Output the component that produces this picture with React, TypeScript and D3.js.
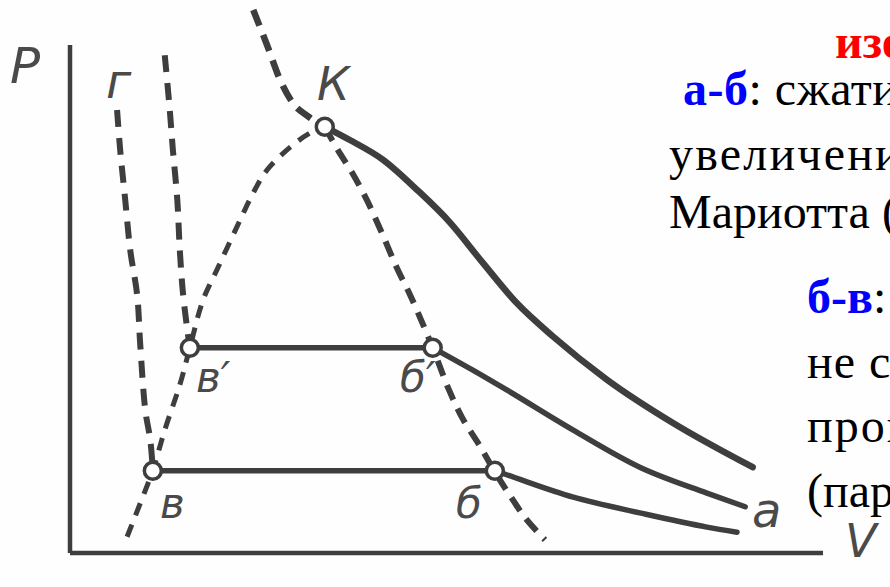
import React from "react";
import * as d3 from "d3";

// P–V diagram of real-gas isotherms (arbitrary units: V 0..12, P 0..10)
type Pt = [number, number];

const V_MAX = 12;
const P_MAX = 10;

// Critical point К and the ends of the two condensation plateaus
const pointK: Pt = [4.06, 8.39];
const plateauHigh: Pt[] = [[1.91, 4.04], [5.78, 4.04]]; // в' — б'
const plateauLow: Pt[] = [[1.32, 1.62], [6.77, 1.62]]; // в — б

// Isotherms (gas part, to the right of the saturation curve)
const isothermCritV = [4.06, 4.46, 4.99, 5.53, 6.06, 6.58, 7.12, 7.7, 8.56, 9.61, 10.88];
const isothermCritP = [8.39, 8.13, 7.74, 7.15, 6.5, 5.71, 4.92, 4.26, 3.41, 2.56, 1.69];
const isothermMidV = [5.78, 6.42, 6.96, 8.02, 9.08, 10.15, 10.76];
const isothermMidP = [4.04, 3.6, 3.21, 2.42, 1.69, 1.18, 0.91];
const isothermLowV = [6.77, 6.96, 8.02, 9.08, 10.15, 10.63];
const isothermLowP = [1.62, 1.54, 1.1, 0.79, 0.51, 0.41];

// Saturation curve: liquid (left) and vapour (right) branches
const domeLeftV = [0.91, 1.12, 1.32, 1.51, 1.75, 1.91, 2.12, 2.34, 2.66, 2.92, 3.14, 3.51, 3.83, 4.06];
const domeLeftP = [0.32, 0.98, 1.63, 2.42, 3.31, 4.04, 4.98, 5.57, 6.42, 7.09, 7.54, 7.99, 8.27, 8.39];
const domeRightV = [4.06, 4.27, 4.49, 4.73, 4.97, 5.21, 5.42, 5.78, 6.04, 6.26, 6.53, 6.77, 7.06, 7.28, 7.57];
const domeRightP = [8.39, 7.93, 7.5, 6.95, 6.3, 5.61, 5.08, 4.04, 3.21, 2.64, 2.11, 1.6, 1.04, 0.65, 0.26];

// Dashed curve above the critical point
const upperV = [2.92, 3.14, 3.35, 3.55, 3.79, 4.06];
const upperP = [10.69, 10.0, 9.31, 8.86, 8.6, 8.39];

// Liquid branches of the isotherms (steep dashed lines)
const liquidLowV = [0.75, 0.8, 0.88, 0.96, 1.07, 1.12, 1.2, 1.28, 1.32];
const liquidLowP = [8.72, 7.93, 6.95, 5.96, 5.08, 4.09, 2.81, 2.22, 1.63];
const liquidHighV = [1.51, 1.59, 1.64, 1.71, 1.75, 1.8, 1.87, 1.91];
const liquidHighP = [9.8, 8.72, 7.93, 6.95, 5.96, 5.12, 4.39, 4.04];

const zip = (vs: number[], ps: number[]): Pt[] => vs.map((v, i) => [v, ps[i]]);

const INK = "#3e3e3e";
const LABEL = "#4a4a4a";
const SERIF = "'Liberation Serif', 'Times New Roman', serif";
const HAND = "'DejaVu Sans', sans-serif";

// Explanatory text on the right (runs past the figure edge)
const noteLines: { y: number; x: number; ls: number; parts: { t: string; c: string; b?: boolean }[] }[] = [
  { x: 835, y: 58, ls: 0, parts: [{ t: "изотермы реального газа", c: "#ff0000", b: true }] },
  { x: 683, y: 105, ls: 0.5, parts: [{ t: "а-б", c: "#0000ff", b: true }, { t: ": сжатие пара с", c: "#000" }] },
  { x: 669, y: 170, ls: 2.2, parts: [{ t: "увеличением давления по закону Бойля-", c: "#000" }] },
  { x: 669, y: 228, ls: 0, parts: [{ t: "Мариотта (газ)", c: "#000" }] },
  { x: 807, y: 313, ls: 0, parts: [{ t: "б-в", c: "#0000ff", b: true }, { t: ": объём уменьшается,", c: "#000" }] },
  { x: 807, y: 378, ls: 1, parts: [{ t: "не сопровождается", c: "#000" }] },
  { x: 807, y: 442, ls: 2, parts: [{ t: "процесс конденсации", c: "#000" }] },
  { x: 807, y: 507, ls: 0, parts: [{ t: "(пар + жидкость)", c: "#000" }] },
];

export default function App() {
  const width = 890;
  const height = 587;

  const x = d3.scaleLinear().domain([0, V_MAX]).range([70, 823]);
  const y = d3.scaleLinear().domain([0, P_MAX]).range([553, 45]);

  const smooth = d3
    .line<Pt>()
    .x((d) => x(d[0]))
    .y((d) => y(d[1]))
    .curve(d3.curveCatmullRom.alpha(0.5));
  const monotone = d3
    .line<Pt>()
    .x((d) => x(d[0]))
    .y((d) => y(d[1]))
    .curve(d3.curveMonotoneX);
  const straight = d3
    .line<Pt>()
    .x((d) => x(d[0]))
    .y((d) => y(d[1]));

  const solid = { fill: "none", stroke: INK, strokeWidth: 5.5, strokeLinecap: "round" as const };
  const dashed = {
    fill: "none",
    stroke: INK,
    strokeWidth: 6,
    strokeDasharray: "16 10",
    strokeLinecap: "butt" as const,
  };

  const circles: Pt[] = [pointK, plateauHigh[0], plateauHigh[1], plateauLow[0], plateauLow[1]];

  const labels: { t: string; v: number; p: number; size: number }[] = [
    { t: "К", v: (317 - 70) / 62.75, p: (553 - 100) / 50.8, size: 46 },
    { t: "г", v: (106 - 70) / 62.75, p: (553 - 98) / 50.8, size: 48 },
    { t: "в′", v: (196 - 70) / 62.75, p: (553 - 392) / 50.8, size: 42 },
    { t: "б′", v: (400 - 70) / 62.75, p: (553 - 392) / 50.8, size: 42 },
    { t: "в", v: (160 - 70) / 62.75, p: (553 - 518) / 50.8, size: 42 },
    { t: "б", v: (456 - 70) / 62.75, p: (553 - 518) / 50.8, size: 42 },
    { t: "a", v: (752 - 70) / 62.75, p: (553 - 527) / 50.8, size: 48 },
  ];

  return (
    <>
      <style>{`body{margin:0;background:#fefefe}`}</style>
      <svg width={width} height={height} style={{ display: "block", background: "#fefefe" }}>
        {/* axes */}
        <line x1={x(0)} y1={y(0)} x2={x(0)} y2={y(P_MAX)} stroke={INK} strokeWidth={4.5} />
        <line x1={x(0)} y1={y(0)} x2={x(V_MAX)} y2={y(0)} stroke={INK} strokeWidth={4.5} />
        <text x={10} y={83} fontFamily={HAND} fontStyle="italic" fontSize={50} fill={LABEL}>
          P
        </text>
        <text x={845} y={557} fontFamily={HAND} fontStyle="italic" fontSize={46} fill={LABEL}>
          V
        </text>

        {/* dashed curves */}
        <path d={monotone(zip(upperV, upperP)) || ""} {...dashed} strokeWidth={6.5} strokeDasharray="17 10" />
        <path d={smooth(zip(domeLeftV, domeLeftP)) || ""} {...dashed} strokeWidth={5} strokeDasharray="13 10" />
        <path d={smooth(zip(domeRightV, domeRightP)) || ""} {...dashed} />
        <path d={smooth(zip(liquidLowV, liquidLowP)) || ""} {...dashed} strokeDasharray="17 11" />
        <path d={smooth(zip(liquidHighV, liquidHighP)) || ""} {...dashed} strokeDasharray="17 11" />

        {/* isotherms */}
        <path d={monotone(zip(isothermCritV, isothermCritP)) || ""} {...solid} strokeWidth={6.5} />
        <path d={monotone(zip(isothermMidV, isothermMidP)) || ""} {...solid} />
        <path d={monotone(zip(isothermLowV, isothermLowP)) || ""} {...solid} />
        <path d={straight(plateauHigh) || ""} {...solid} />
        <path d={straight(plateauLow) || ""} {...solid} />

        {/* marked states */}
        {circles.map((c, i) => (
          <circle key={i} cx={x(c[0])} cy={y(c[1])} r={8.5} fill="#fff" stroke={INK} strokeWidth={3.5} />
        ))}

        {labels.map((l, i) => (
          <text
            key={i}
            x={x(l.v)}
            y={y(l.p)}
            fontFamily={HAND}
            fontStyle="italic"
            fontSize={l.size}
            fill={LABEL}
          >
            {l.t}
          </text>
        ))}

        {/* notes */}
        {noteLines.map((ln, i) => (
          <text key={i} x={ln.x} y={ln.y} fontFamily={SERIF} fontSize={48} letterSpacing={ln.ls}>
            {ln.parts.map((p, j) => (
              <tspan key={j} fill={p.c} fontWeight={p.b ? "bold" : "normal"}>
                {p.t}
              </tspan>
            ))}
          </text>
        ))}
      </svg>
    </>
  );
}
